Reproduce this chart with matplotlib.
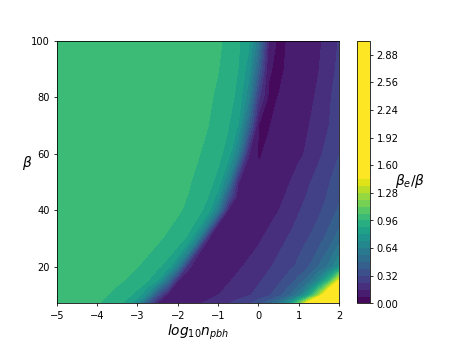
import numpy as np
import matplotlib
matplotlib.use("Agg")
import matplotlib.pyplot as plt

# log10 n_pbh grid (x) and beta grid (y)
log_n_pbh = [-5.0, -4.75, -4.5, -4.25, -4.0, -3.75, -3.5, -3.25, -3.0, -2.75,
             -2.5, -2.25, -2.0, -1.75, -1.5, -1.25, -1.0, -0.75, -0.5, -0.25,
             0.0, 0.25, 0.5, 0.75, 1.0, 1.25, 1.5, 1.75, 2.0]
beta_vals = [7, 10, 15, 20, 25, 30, 35, 40, 45, 50, 60, 70, 80, 90, 100]

# beta_e / beta, one row per beta value
z_b7 = [1.0, 1.0, 1.0, 0.99, 0.965, 0.932, 0.897, 0.858, 0.695, 0.372,
        0.125, 0.105, 0.102, 0.11, 0.15, 0.175, 0.205, 0.235, 0.27, 0.31,
        0.37, 0.45, 0.57, 0.76, 1.1, 1.6, 2.1, 2.55, 2.98]
z_b10 = [1.0, 1.0, 1.0, 1.0, 0.985, 0.96, 0.928, 0.895, 0.858, 0.69,
         0.358, 0.12, 0.1, 0.1, 0.11, 0.135, 0.158, 0.185, 0.21, 0.23,
         0.265, 0.305, 0.37, 0.46, 0.6, 0.85, 1.25, 1.8, 2.4]
z_b15 = [1.0, 1.0, 1.0, 1.0, 1.0, 1.0, 0.977, 0.949, 0.916, 0.883,
         0.797, 0.531, 0.15, 0.105, 0.098, 0.1, 0.115, 0.152, 0.178, 0.2,
         0.23, 0.262, 0.3, 0.36, 0.43, 0.53, 0.7, 0.98, 1.45]
z_b20 = [1.0, 1.0, 1.0, 1.0, 1.0, 1.0, 1.0, 0.987, 0.962, 0.929,
         0.895, 0.847, 0.621, 0.181, 0.105, 0.097, 0.105, 0.125, 0.15, 0.172,
         0.2, 0.23, 0.262, 0.295, 0.34, 0.398, 0.487, 0.58, 0.74]
z_b25 = [1.0, 1.0, 1.0, 1.0, 1.0, 1.0, 1.0, 1.0, 0.993, 0.968,
         0.936, 0.901, 0.859, 0.636, 0.171, 0.102, 0.098, 0.108, 0.128, 0.15,
         0.17, 0.205, 0.237, 0.27, 0.31, 0.355, 0.415, 0.50, 0.62]
z_b30 = [1.0, 1.0, 1.0, 1.0, 1.0, 1.0, 1.0, 1.0, 1.0, 1.0,
         0.974, 0.944, 0.907, 0.869, 0.653, 0.165, 0.1, 0.097, 0.105, 0.12,
         0.15, 0.175, 0.212, 0.245, 0.28, 0.322, 0.37, 0.43, 0.52]
z_b35 = [1.0, 1.0, 1.0, 1.0, 1.0, 1.0, 1.0, 1.0, 1.0, 1.0,
         0.998, 0.974, 0.942, 0.904, 0.861, 0.629, 0.155, 0.1, 0.097, 0.107,
         0.125, 0.155, 0.18, 0.22, 0.255, 0.292, 0.335, 0.39, 0.46]
z_b40 = [1.0, 1.0, 1.0, 1.0, 1.0, 1.0, 1.0, 1.0, 1.0, 1.0,
         1.0, 0.998, 0.973, 0.941, 0.901, 0.851, 0.606, 0.15, 0.095, 0.1,
         0.115, 0.135, 0.158, 0.195, 0.235, 0.265, 0.305, 0.355, 0.41]
z_b45 = [1.0, 1.0, 1.0, 1.0, 1.0, 1.0, 1.0, 1.0, 1.0, 1.0,
         1.0, 1.0, 0.984, 0.958, 0.92, 0.882, 0.77, 0.41, 0.1, 0.093,
         0.098, 0.115, 0.14, 0.172, 0.21, 0.25, 0.285, 0.33, 0.385]
z_b50 = [1.0, 1.0, 1.0, 1.0, 1.0, 1.0, 1.0, 1.0, 1.0, 1.0,
         1.0, 1.0, 0.995, 0.97, 0.938, 0.902, 0.86, 0.635, 0.165, 0.095,
         0.09, 0.1, 0.12, 0.155, 0.19, 0.232, 0.27, 0.315, 0.36]
z_b60 = [1.0, 1.0, 1.0, 1.0, 1.0, 1.0, 1.0, 1.0, 1.0, 1.0,
         1.0, 1.0, 1.0, 0.992, 0.967, 0.934, 0.899, 0.853, 0.623, 0.17,
         0.074, 0.09, 0.1, 0.115, 0.145, 0.175, 0.225, 0.27, 0.318]
z_b70 = [1.0, 1.0, 1.0, 1.0, 1.0, 1.0, 1.0, 1.0, 1.0, 1.0,
         1.0, 1.0, 1.0, 1.0, 0.985, 0.961, 0.922, 0.885, 0.795, 0.492,
         0.078, 0.076, 0.095, 0.108, 0.125, 0.158, 0.19, 0.238, 0.30]
z_b80 = [1.0, 1.0, 1.0, 1.0, 1.0, 1.0, 1.0, 1.0, 1.0, 1.0,
         1.0, 1.0, 1.0, 1.0, 1.0, 0.975, 0.944, 0.904, 0.863, 0.672,
         0.267, 0.07, 0.081, 0.098, 0.115, 0.14, 0.175, 0.225, 0.285]
z_b90 = [1.0, 1.0, 1.0, 1.0, 1.0, 1.0, 1.0, 1.0, 1.0, 1.0,
         1.0, 1.0, 1.0, 1.0, 1.0, 0.988, 0.963, 0.921, 0.879, 0.766,
         0.459, 0.09, 0.06, 0.095, 0.11, 0.13, 0.158, 0.205, 0.26]
z_b100 = [1.0, 1.0, 1.0, 1.0, 1.0, 1.0, 1.0, 1.0, 1.0, 1.0,
          1.0, 1.0, 1.0, 1.0, 1.0, 1.0, 0.974, 0.939, 0.891, 0.825,
          0.587, 0.165, 0.055, 0.088, 0.105, 0.122, 0.148, 0.19, 0.245]

level_step = 0.08
level_max = 3.04
color_max = 1.47
cbar_ticks = [0.00, 0.32, 0.64, 0.96, 1.28, 1.60, 1.92, 2.24, 2.56, 2.88]

Z = np.array([z_b7, z_b10, z_b15, z_b20, z_b25, z_b30, z_b35, z_b40, z_b45,
              z_b50, z_b60, z_b70, z_b80, z_b90, z_b100])
X, Y = np.meshgrid(log_n_pbh, beta_vals)

fig = plt.figure(figsize=(6.4, 4.8), dpi=455 / 6.4)
ax = fig.add_subplot(111)
levels = np.arange(0, level_max + level_step / 2, level_step)
cs = ax.contourf(X, Y, Z, levels=levels, cmap="viridis", vmin=0, vmax=color_max)
cbar = fig.colorbar(cs, ax=ax)
cbar.set_ticks(cbar_ticks)
cbar.ax.set_yticklabels(["%.2f" % t for t in cbar_ticks])
cbar.ax.set_ylabel(r"$\beta_e/\beta$", rotation=0, fontsize=14, ha="left",
                   va="top", labelpad=-4)

ax.set_xlabel(r"$log_{10}n_{pbh}$", fontsize=14, labelpad=2)
ax.set_ylabel(r"$\beta$", rotation=0, fontsize=14)

fig.savefig("out.png", dpi=455 / 6.4)
